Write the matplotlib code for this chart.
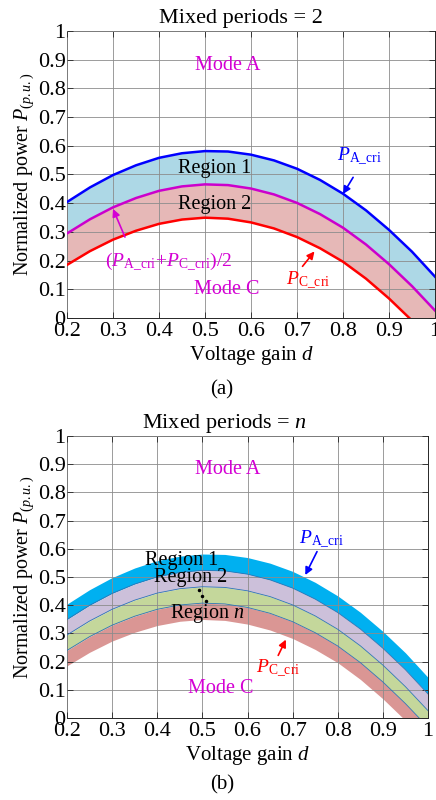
import numpy as np
import matplotlib.pyplot as plt
from matplotlib.ticker import FuncFormatter

plt.rcParams['font.family'] = ['Liberation Serif', 'DejaVu Serif']
plt.rcParams['mathtext.fontset'] = 'custom'
plt.rcParams['mathtext.rm'] = 'Liberation Serif'
plt.rcParams['mathtext.it'] = 'Liberation Serif:italic'
plt.rcParams['mathtext.bf'] = 'Liberation Serif:bold'

# voltage gain samples and the two critical power boundaries
d = [0.20, 0.25, 0.30, 0.35, 0.40, 0.45, 0.50, 0.55, 0.60,
     0.65, 0.70, 0.75, 0.80, 0.85, 0.90, 0.95, 1.00]
p_a_cri = [0.404, 0.455, 0.498, 0.532, 0.558, 0.574, 0.5815, 0.580, 0.569,
           0.549, 0.520, 0.481, 0.433, 0.375, 0.307, 0.231, 0.144]
p_c_cri = [0.185, 0.233, 0.273, 0.304, 0.328, 0.343, 0.3495, 0.346, 0.333,
           0.312, 0.282, 0.243, 0.196, 0.137, 0.068, -0.009, -0.092]

x_ticks = [0.2, 0.3, 0.4, 0.5, 0.6, 0.7, 0.8, 0.9, 1.0]
y_ticks = [0, 0.1, 0.2, 0.3, 0.4, 0.5, 0.6, 0.7, 0.8, 0.9, 1.0]

# band colours for the n-period case (top to bottom)
band_colors = ['#00B0F0', '#CCC0DA', '#C4D79B', '#DA9694']

MAGENTA = '#D400D4'
FS_TICK = 16
FS_TEXT = 14.5
FS_SYM = 14


def setup_axes(ax, title, title_x):
    ax.set_xlim(0.2, 1.0)
    ax.set_ylim(0, 1.0)
    ax.set_xticks(x_ticks)
    ax.set_yticks(y_ticks)
    fmt = FuncFormatter(lambda v, pos: f'{v:g}')
    ax.xaxis.set_major_formatter(fmt)
    ax.yaxis.set_major_formatter(fmt)
    ax.tick_params(direction='in', top=True, right=True, labelsize=FS_TICK,
                   length=4, width=0.6, colors='#262626', labelcolor='black', pad=1)
    ax.tick_params(axis='x', pad=3)
    ax.grid(True, color='#8c8c8c', lw=0.6)
    ax.set_axisbelow(False)
    for sp in ax.spines.values():
        sp.set_color('#262626')
        sp.set_linewidth(0.7)
    ax.set_title(title, fontsize=FS_TICK, pad=6, x=title_x)
    ax.set_xlabel('Voltage gain $d$', fontsize=15, labelpad=2)
    ax.set_ylabel('Normalized power $P_{(p.u.)}$', fontsize=FS_TEXT, labelpad=1)


def arrow(ax, text_xy, tip_xy, color):
    ax.annotate('', xy=tip_xy, xytext=text_xy,
                arrowprops=dict(arrowstyle='-|>', color=color, lw=1.2,
                                mutation_scale=11, shrinkA=0, shrinkB=0),
                zorder=5)


def label(ax, x, y, s, color='black', size=FS_TEXT):
    ax.text(x, y, s, color=color, fontsize=size, ha='center', va='center', zorder=6)


def main():
    dd = np.asarray(d)
    pa = np.asarray(p_a_cri)
    pc = np.asarray(p_c_cri)
    mid = (pa + pc) / 2

    fig = plt.figure(figsize=(4.36, 8.0), dpi=100)

    # (a) two mixed periods
    ax1 = fig.add_axes([0.1537, 0.6025, 0.844, 0.3588])
    ax1.fill_between(dd, mid, pa, color='#ADD8E6', lw=0, zorder=1)
    ax1.fill_between(dd, pc, mid, color='#E6B8B7', lw=0, zorder=1)
    ax1.plot(dd, pa, color='#0000FF', lw=1.8, zorder=3)
    ax1.plot(dd, mid, color='#CC00CC', lw=1.8, zorder=3)
    ax1.plot(dd, pc, color='#FF0000', lw=1.8, zorder=3)
    setup_axes(ax1, 'Mixed periods = 2', 0.473)

    label(ax1, 0.55, 0.88, 'Mode A', MAGENTA)
    label(ax1, 0.547, 0.10, 'Mode C', MAGENTA)
    label(ax1, 0.52, 0.52, 'Region 1')
    label(ax1, 0.52, 0.394, 'Region 2')
    label(ax1, 0.42, 0.196, r'$(P_{\mathrm{A\_cri}}\!+\!P_{\mathrm{C\_cri}})/2$',
          MAGENTA, FS_SYM)
    arrow(ax1, (0.326, 0.282), (0.300, 0.380), MAGENTA)
    label(ax1, 0.835, 0.56, r'$P_{\mathrm{A\_cri}}$', '#0000FF', FS_SYM)
    arrow(ax1, (0.822, 0.49), (0.800, 0.432), '#0000FF')
    label(ax1, 0.725, 0.13, r'$P_{\mathrm{C\_cri}}$', '#FF0000', FS_SYM)
    arrow(ax1, (0.712, 0.18), (0.738, 0.232), '#FF0000')

    # (b) n mixed periods: four equal bands between the boundaries
    ax2 = fig.add_axes([0.1537, 0.1025, 0.828, 0.3525])
    levels = [pa + (pc - pa) * k / 4 for k in range(5)]
    for k in range(4):
        ax2.fill_between(dd, levels[k + 1], levels[k], color=band_colors[k],
                         lw=0, zorder=1)
    for k in range(1, 4):
        ax2.plot(dd, levels[k], color='#2E75B6', lw=0.6, zorder=3)
    setup_axes(ax2, 'Mixed periods = $n$', 0.436)

    label(ax2, 0.555, 0.88, 'Mode A', MAGENTA)
    label(ax2, 0.54, 0.106, 'Mode C', MAGENTA)
    label(ax2, 0.455, 0.56, 'Region 1')
    label(ax2, 0.473, 0.497, 'Region 2')
    label(ax2, 0.51, 0.372, 'Region $n$')
    ax2.plot([0.493, 0.4996, 0.508], [0.454, 0.434, 0.414], 'k.', ms=3, zorder=4)
    label(ax2, 0.763, 0.63, r'$P_{\mathrm{A\_cri}}$', '#0000FF', FS_SYM)
    arrow(ax2, (0.754, 0.59), (0.728, 0.507), '#0000FF')
    label(ax2, 0.667, 0.175, r'$P_{\mathrm{C\_cri}}$', '#FF0000', FS_SYM)
    arrow(ax2, (0.668, 0.222), (0.685, 0.278), '#FF0000')

    fig.text(0.509, 1 - 390 / 800, '(a)', fontsize=15, ha='center', va='center')
    fig.text(0.509, 1 - 785 / 800, '(b)', fontsize=15, ha='center', va='center')

    fig.savefig('out.png', dpi=100)


if __name__ == '__main__':
    main()
